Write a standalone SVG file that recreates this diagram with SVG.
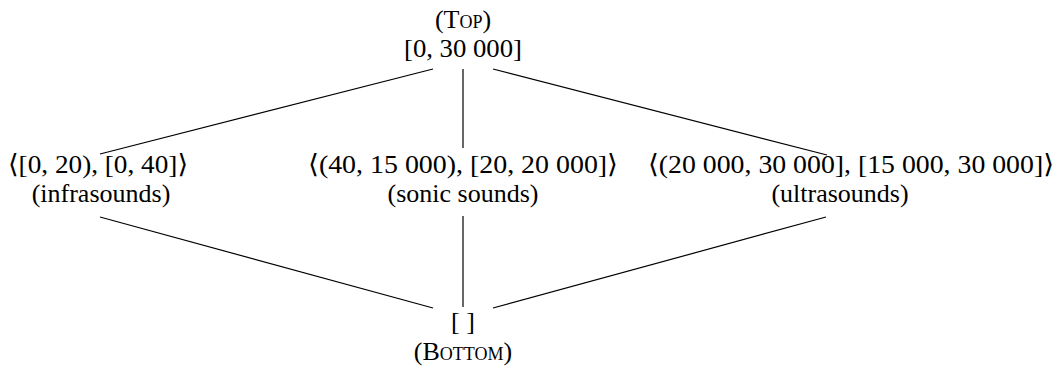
<svg xmlns="http://www.w3.org/2000/svg" width="1062" height="368" viewBox="0 0 1062 368">
  <style>
    text { font-family: "Liberation Serif", "DejaVu Serif", serif; font-size: 26px; fill: #000; text-anchor: middle; }
    .sc { font-variant: small-caps; }
    .edge { stroke: #000; stroke-width: 1.2; fill: none; }
  </style>
  <rect width="1062" height="368" fill="#fff"/>

  <!-- connectors of the lattice -->
  <g id="edges">
    <line class="edge" x1="433" y1="69" x2="100" y2="154"/>
    <line class="edge" x1="463" y1="69" x2="463" y2="148"/>
    <line class="edge" x1="493" y1="69" x2="827" y2="155"/>
    <line class="edge" x1="100" y1="217" x2="433" y2="308"/>
    <line class="edge" x1="463" y1="216" x2="463" y2="307"/>
    <line class="edge" x1="826" y1="217" x2="493" y2="308"/>
  </g>

  <g id="top">
    <text class="sc" x="463" y="28">(Top)</text>
    <text x="463" y="57" textLength="118" lengthAdjust="spacingAndGlyphs">[0, 30 000]</text>
  </g>

  <g id="infrasounds">
    <text x="98" y="173" textLength="180" lengthAdjust="spacingAndGlyphs">⟨[0, 20), [0, 40]⟩</text>
    <text x="101" y="202">(infrasounds)</text>
  </g>

  <g id="sonic">
    <text x="463" y="173" textLength="310" lengthAdjust="spacingAndGlyphs">⟨(40, 15 000), [20, 20 000]⟩</text>
    <text x="463" y="202">(sonic sounds)</text>
  </g>

  <g id="ultrasounds">
    <text x="851" y="173" textLength="406" lengthAdjust="spacingAndGlyphs">⟨(20 000, 30 000], [15 000, 30 000]⟩</text>
    <text x="840" y="202">(ultrasounds)</text>
  </g>

  <g id="bottom">
    <text x="463" y="330">[ ]</text>
    <text class="sc" x="463" y="360">(Bottom)</text>
  </g>
</svg>
